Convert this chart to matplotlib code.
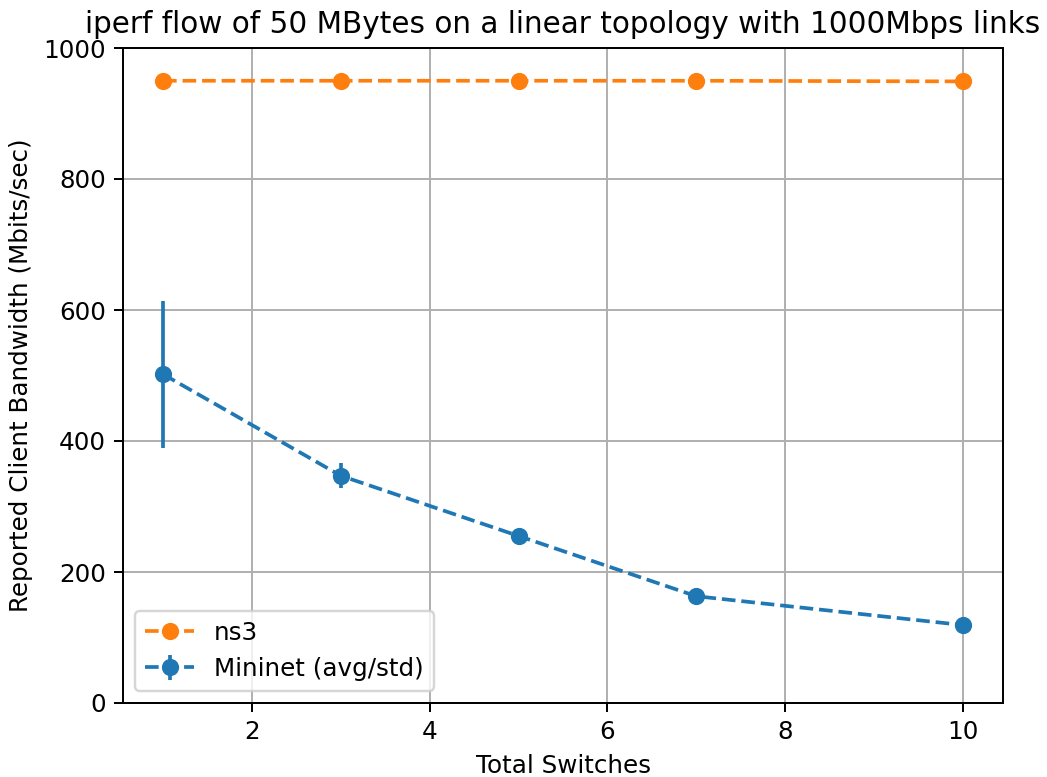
import matplotlib
matplotlib.use("Agg")
import matplotlib.pyplot as plt

# switch counts and measured bandwidth (Mbits/sec)
switches = [1, 3, 5, 7, 10]
mininet_avg = [502, 347, 255, 163, 119]
mininet_std = [112, 19, 4, 3, 2]
ns3_bw = [950, 950, 950, 950, 949]

DPI = 177
fig = plt.figure(figsize=(1047 / DPI, 777 / DPI), dpi=DPI)
ax = fig.add_axes([123 / 1047, 1 - 703 / 777, 880 / 1047, 655 / 777])

ax.errorbar(switches, mininet_avg, yerr=mininet_std, fmt='o--', color='C0',
            label='Mininet (avg/std)')
ax.plot(switches, ns3_bw, 'o--', color='C1', label='ns3')

ax.set_ylim(0, 1000)
ax.set_title("iperf flow of 50 MBytes on a linear topology with 1000Mbps links")
ax.set_xlabel("Total Switches")
ax.set_ylabel("Reported Client Bandwidth (Mbits/sec)")
ax.grid(True)
ax.legend(loc='lower left')

fig.savefig("out.png", dpi=DPI)
